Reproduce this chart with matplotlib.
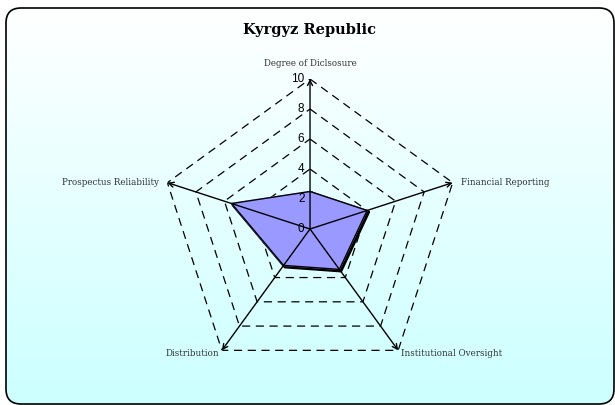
import numpy as np
import matplotlib
matplotlib.use("Agg")
import matplotlib.pyplot as plt
from matplotlib.patches import FancyBboxPatch
import matplotlib.transforms as mtransforms

# dados do gráfico
categorias = ["Degree of Diclsosure", "Financial Reporting", "Institutional Oversight",
              "Distribution", "Prospectus Reliability"]
valores = [2.5, 4.0, 3.33, 3.0, 5.5]
niveis = [2, 4, 6, 8, 10]
titulo = "Kyrgyz Republic"

fig = plt.figure(figsize=(6.15, 4.05), dpi=100)

# fundo com gradiente e borda arredondada
bg = fig.add_axes([0, 0, 1, 1])
bg.set_xlim(0, 615)
bg.set_ylim(405, 0)
bg.axis("off")
grad = np.linspace(0, 1, 256).reshape(-1, 1)
cmap = matplotlib.colors.LinearSegmentedColormap.from_list("g", ["#FFFFFF", "#CCFFFF"])
img = bg.imshow(grad, cmap=cmap, extent=[6, 614, 404, 8], aspect="auto", zorder=0)
caixa = FancyBboxPatch((6, 8), 608, 396, boxstyle="round,pad=0,rounding_size=15",
                       facecolor="none", edgecolor="black", lw=1.2, zorder=2)
bg.add_patch(caixa)
img.set_clip_path(caixa)

fig.text(0.504, 1 - 30 / 405, titulo, ha="center", va="center", fontsize=10.5,
         fontweight="bold", family="DejaVu Serif")

ax = fig.add_axes([0.2602, 0.0642, 0.4878, 0.7407], projection="polar")
ax.set_theta_offset(np.pi / 2)
ax.set_theta_direction(-1)
ax.set_ylim(0, 10)
ax.patch.set_alpha(0)
ax.grid(False)
ax.spines["polar"].set_visible(False)
ax.set_xticks([])
ax.set_yticks([])

n = len(categorias)
angulos = np.linspace(0, 2 * np.pi, n, endpoint=False)
ang_fech = np.append(angulos, angulos[0])

# grade pentagonal tracejada
for r in niveis:
    ax.plot(ang_fech, [r] * (n + 1), color="black", lw=0.9, ls=(0, (6.5, 4.5)), zorder=1)

# série (com sombra deslocada)
vals = np.append(valores, valores[0])
sombra = mtransforms.offset_copy(ax.transData, fig=fig, x=1.5, y=-1.5, units="dots")
ax.plot(ang_fech, vals, color="black", lw=2.2, transform=sombra, zorder=2)
ax.fill(ang_fech, vals, color="#9999FF", zorder=3)
ax.plot(ang_fech, vals, color="black", lw=1.0, zorder=4)

# eixos com setas
for a in angulos:
    ax.annotate("", xy=(a, 10), xytext=(0, 0),
                arrowprops=dict(arrowstyle="->", color="black", lw=1.0,
                                shrinkA=0, shrinkB=0, mutation_scale=9), zorder=5)

# rótulos das categorias
deslocs = [(0, 8, "center", "bottom"), (6, 0, "left", "center"),
           (2, -2, "left", "center"), (-2, -2, "right", "center"),
           (-6, 0, "right", "center")]
for a, cat, (dx, dy, ha, va) in zip(angulos, categorias, deslocs):
    ax.annotate(cat, xy=(a, 10), xytext=(dx, dy), textcoords="offset points",
                ha=ha, va=va, fontsize=6.3, family="DejaVu Serif", color="#333333")

# rótulos dos valores
for r in [0] + niveis:
    ax.annotate(str(r), xy=(0, r), xytext=(-4, 0), textcoords="offset points",
                ha="right", va="center", fontsize=8.5, family="Liberation Sans", zorder=6)

fig.savefig("out.png", dpi=100)
